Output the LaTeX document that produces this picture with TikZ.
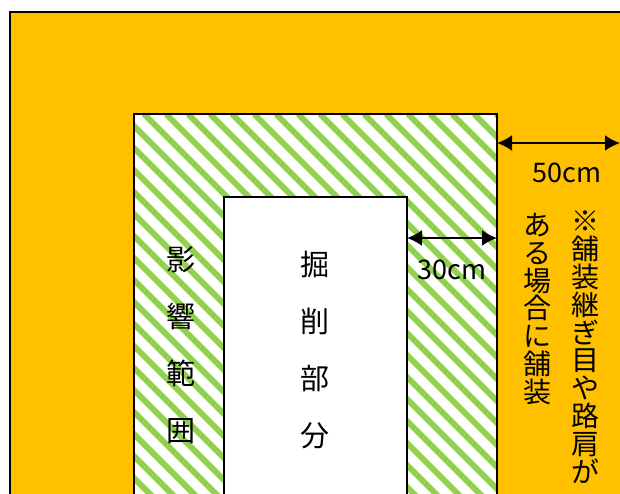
\documentclass[tikz,border=0pt]{standalone}
\usepackage{fontspec}
\newfontfamily\jp{Noto Sans CJK JP}
\usetikzlibrary{arrows.meta}
\definecolor{paving}{HTML}{FFC000}
\definecolor{hatchgreen}{HTML}{92D050}

\begin{document}
\begin{tikzpicture}[x=1pt, y=-1pt, inner sep=0pt,
  area/.style={draw=black, line width=1.5pt, anchor=north west, outer sep=0pt},
  stripe/.style={hatchgreen, line width=6pt},
  dim/.style={line width=2.2pt, {Latex[length=15pt,width=16pt]}-{Latex[length=15pt,width=16pt]}},
  lbl/.style={font=\jp\fontsize{27}{27}\selectfont},
  tate/.style={font=\jp\fontsize{29}{57}\selectfont, align=center},
  note/.style={font=\jp\fontsize{28}{27.8}\selectfont, align=center, anchor=north},
  ]
  \useasboundingbox (0,0) rectangle (620,493);
  \clip (0,0) rectangle (620,493);
  % paved road
  \fill[paving] (10,12) rectangle (640,520);
  \draw[line width=2pt] (10,520) -- (10,12) -- (640,12);
  % hatched zone
  \begin{scope}
    \clip (134,114) rectangle (497,534);
    \fill[white] (134,114) rectangle (497,534);
    \foreach \s in {-296,-274,...,500}
      \draw[stripe] (\s,114) -- ++(450,450);
  \end{scope}
  \node[area, minimum width=363pt, minimum height=420pt] (eikyo) at (134,114) {};
  \node[area, fill=white, minimum width=183pt, minimum height=330pt] (kussaku) at (224,197) {};

  \node[tate] (eikyolbl) at (181,345) {影\\響\\範\\囲};
  \node[tate] (kussakulbl) at (315,350) {掘\\削\\部\\分};

  \coordinate (edge50) at (620,143);
  \coordinate (mid30) at (452,238);
  \draw[dim] (eikyo.east |- edge50) -- (edge50);
  \draw[dim] (kussaku.east |- mid30) -- (eikyo.east |- mid30);
  \node[lbl] (w50) at (567,173) {50cm};
  \node[lbl] (w30) at (452,270) {30cm};

  \node[note] (note1) at (585,211) {※\\舗\\装\\継\\ぎ\\目\\や\\路\\肩\\が};
  \node[note] (note2) at (537,213) {あ\\る\\場\\合\\に\\舗\\装};
\end{tikzpicture}
\end{document}
